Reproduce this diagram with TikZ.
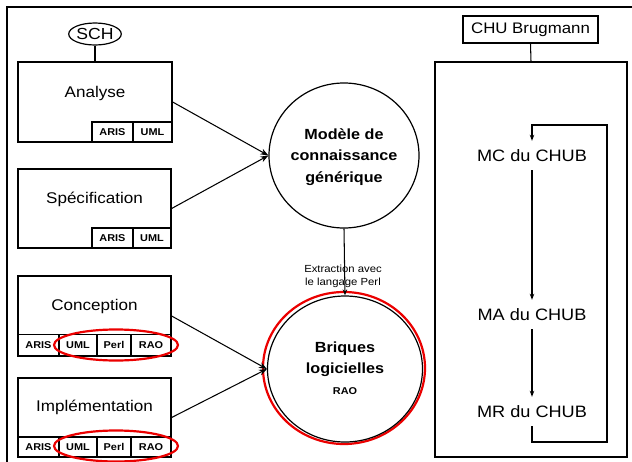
\documentclass[tikz,border=0pt]{standalone}
\usepackage{fontspec}
\setmainfont{Liberation Sans}[FakeStretch=1.1]
\usetikzlibrary{shapes.geometric,arrows.meta}
\definecolor{ringred}{RGB}{235,0,0}
\tikzset{
  bigtxt/.style={font=\fontsize{15.5}{18}\selectfont},
  boldtxt/.style={font=\fontsize{14.7}{21.5}\selectfont\bfseries, align=center},
  boxshape/.style={draw, line width=1.3pt, inner sep=0pt},
  cell/.style={draw, line width=1.1pt, inner sep=0pt, font=\fontsize{9.9}{12}\selectfont\bfseries},
  ringshape/.style={draw=ringred, ellipse, line width=2.2pt, inner sep=0pt},
  circshape/.style={draw, ellipse, line width=1.2pt, inner sep=0pt},
  conn/.style={line width=1.05pt},
  bigarrow/.style={conn, -{Stealth[length=8pt,width=6pt]}},
  smallarrow/.style={conn, -{Stealth[length=6pt,width=4.5pt]}},
  chubtxt/.style={font=\fontsize{16.5}{18}\selectfont, minimum height=29pt, inner sep=0pt},
}
\begin{document}
\begin{tikzpicture}[x=1pt,y=-1pt]
\useasboundingbox (0,0) rectangle (632,461);
% outer frame
\coordinate (fbl) at (7,470);
\coordinate (ftl) at (7,7);
\coordinate (ftr) at (640,7);
\draw[line width=2.5pt] (fbl) -- (ftl) -- (ftr);

% SCH
\node[circshape, minimum width=46, minimum height=22, font=\fontsize{16}{18}\selectfont] (sch) at (95,34) {SCH};

% Analyse
\node[boxshape, minimum width=154, minimum height=80] (analyse) at (95,102) {};
\node[bigtxt] (analyseT) at (95,93) {Analyse};
\node[cell, minimum width=41, minimum height=20] (a1) at (112.5,132) {ARIS};
\node[cell, minimum width=39, minimum height=20] (a2) at (152.5,132) {UML};
\draw[conn] (sch.south) -- (analyse.north);

% Specification
\node[boxshape, minimum width=153, minimum height=79] (spec) at (94.5,208.5) {};
\node[bigtxt] (specT) at (94.5,199) {Spécification};
\node[cell, minimum width=41, minimum height=20] (s1) at (112.5,238) {ARIS};
\node[cell, minimum width=38, minimum height=20] (s2) at (152,238) {UML};

% Conception
\node[boxshape, minimum width=153, minimum height=80] (conc) at (94.5,316) {};
\node[bigtxt] (concT) at (94.5,306) {Conception};
\node[cell, minimum width=41, minimum height=21] (c1) at (38.5,345) {ARIS};
\node[cell, minimum width=38, minimum height=21] (c2) at (78,345) {UML};
\node[cell, minimum width=34, minimum height=21] (c3) at (114,345) {Perl};
\node[cell, minimum width=40, minimum height=21] (c4) at (151,345) {RAO};

% Implementation
\node[boxshape, minimum width=153, minimum height=79] (impl) at (94.5,417.5) {};
\node[bigtxt] (implT) at (94.5,407) {Implémentation};
\node[cell, minimum width=41, minimum height=20] (i1) at (38.5,447) {ARIS};
\node[cell, minimum width=38, minimum height=20] (i2) at (78,447) {UML};
\node[cell, minimum width=34, minimum height=20] (i3) at (114,447) {Perl};
\node[cell, minimum width=40, minimum height=20] (i4) at (151,447) {RAO};

% red rings around cells
\node[ringshape, minimum width=124, minimum height=31] (ring1) at (116,345) {};
\node[ringshape, minimum width=124, minimum height=31] (ring2) at (116,446) {};

% Modele
\node[circshape, minimum width=150, minimum height=145] (modele) at (344,155.5) {};
\node[boldtxt] (modeleT) at (344,157) {Modèle de\\connaissance\\générique};

% Briques
\node[ringshape, minimum width=162, minimum height=152] (briquesR) at (344,368) {};
\node[circshape, minimum width=155, minimum height=146] (briques) at (345,369) {};
\node[boldtxt] (briquesT) at (345,359) {Briques\\logicielles};
\node[font=\fontsize{9.9}{12}\selectfont\bfseries] (raoT) at (345,391) {RAO};

% arrows into circles
\draw[bigarrow] (analyse.east) -- (modele.west);
\draw[bigarrow] (spec.east) -- (modele.west);
\draw[bigarrow] (conc.east) -- (briques.west);
\draw[bigarrow] (impl.east) -- (briques.west);
\draw[smallarrow] (modele.south) -- (briques.north);
\node[font=\fontsize{10.3}{13}\selectfont, align=center] (extr) at (343,276.5) {Extraction avec\\le langage Perl};

% right side
\node[boxshape, minimum width=135, minimum height=27, font=\fontsize{15.3}{18}\selectfont] (chu) at (530.5,29.5) {CHU Brugmann};
\node[boxshape, minimum width=192, minimum height=395] (bigbox) at (531,259.5) {};
\draw[conn] (chu.south) -- (bigbox.north);

\node[chubtxt] (mc) at (532,155.5) {MC du CHUB};
\node[chubtxt] (ma) at (532,314.5) {MA du CHUB};
\node[chubtxt] (mr) at (532,411.5) {MR du CHUB};
\draw[smallarrow] (mc.south) -- (ma.north);
\draw[smallarrow] (ma.south) -- (mr.north);
\coordinate (lbr) at (607,442);
\coordinate (ltr) at (607,125);
\coordinate (ltl) at (532,125);
\draw[smallarrow] (mr.south) |- (lbr) -- (ltr) -- (ltl) -- (mc.north);
\end{tikzpicture}
\end{document}
